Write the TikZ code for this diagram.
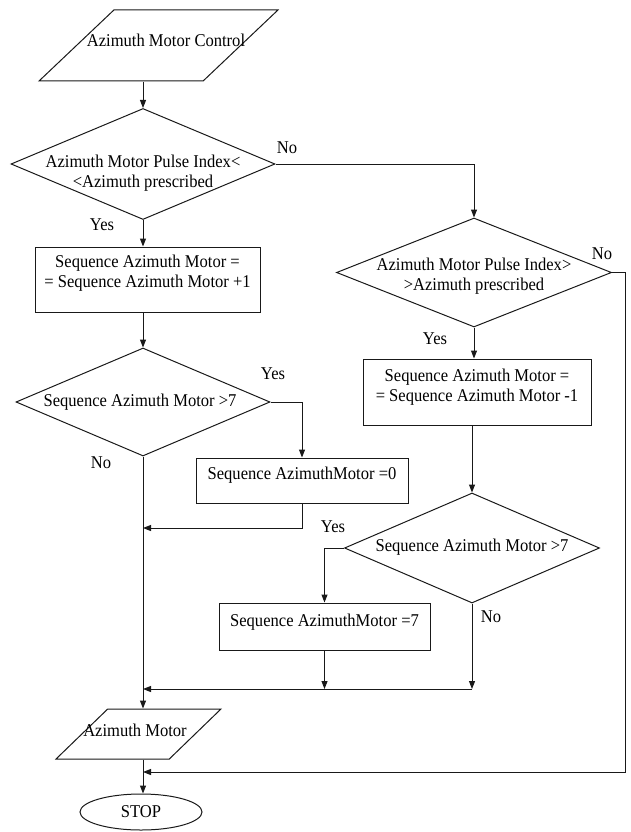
\documentclass[tikz,border=0pt]{standalone}
\usepackage{fontspec}
\setmainfont{Liberation Serif}[FakeStretch=0.92]
\usetikzlibrary{shapes.geometric,arrows.meta,calc}

\begin{document}
\begin{tikzpicture}[x=1pt,y=-1pt,
  line/.style={draw=black!90, line width=1pt},
  arr/.style={line, -{Triangle[length=8pt,width=6pt]}},
  box/.style={line, rectangle, inner sep=0pt},
  dia/.style={line, diamond, inner sep=0pt},
  io/.style={line, trapezium, trapezium stretches=true, trapezium left angle=50, trapezium right angle=130, inner sep=1pt},
  term/.style={line, ellipse, inner sep=0pt, font=\fontsize{18}{20}\selectfont},
  txt/.style={font=\fontsize{18}{20}\selectfont, align=center, inner sep=0pt},
  lab/.style={font=\fontsize{18}{20}\selectfont, inner sep=0pt},
]
\useasboundingbox (0,0) rectangle (630,832);

% shapes
\node[io, minimum width=239, minimum height=71] (p1) at (158.5,45.5) {};
\node[txt] (p1t) at (166,40) {Azimuth Motor Control};

\node[dia, minimum width=264, minimum height=111] (d1) at (143,164) {};
\node[txt] (d1t) at (143,173) {Azimuth Motor Pulse Index<\\<Azimuth prescribed};

\node[box, minimum width=225, minimum height=65] (b1) at (147.5,279.5) {};
\node[txt] (b1t) at (147.5,273) {Sequence Azimuth Motor =\\= Sequence Azimuth Motor +1};

\node[dia, minimum width=254, minimum height=108] (d3) at (143,402) {};
\node[txt] (d3t) at (140,402) {Sequence Azimuth Motor >7};

\node[box, minimum width=212, minimum height=45] (b0) at (302,480.5) {};
\node[txt] (b0t) at (302,475) {Sequence AzimuthMotor =0};

\node[dia, minimum width=275, minimum height=109] (d2) at (474,272.5) {};
\node[txt] (d2t) at (474,276) {Azimuth Motor Pulse Index>\\>Azimuth prescribed};

\node[box, minimum width=228, minimum height=66] (b2) at (477,392) {};
\node[txt] (b2t) at (477,387) {Sequence Azimuth Motor =\\= Sequence Azimuth Motor -1};

\node[dia, minimum width=255, minimum height=110] (d4) at (472,548) {};
\node[txt] (d4t) at (472,547) {Sequence Azimuth Motor >7};

\node[box, minimum width=211, minimum height=47] (b7) at (324.5,626.5) {};
\node[txt] (b7t) at (324.5,622) {Sequence AzimuthMotor =7};

\node[io, minimum width=165, minimum height=50] (p2) at (138.5,734) {};
\node[txt] (p2t) at (135,730) {Azimuth Motor};

\node[term, minimum width=122, minimum height=36] (stop) at (141,812) {STOP};

% junction points
\coordinate (m1) at (143,528);
\coordinate (m2) at (143,689);
\coordinate (m3) at (143,772);
\coordinate (r1) at (625,772);

% connectors
\draw[arr] (d1.north |- p1.south) -- (d1.north);
\draw[arr] (d1.east) -| (d2.north);
\draw[arr] (d1.south) -- (d1.south |- b1.north);
\draw[arr] (d3.north |- b1.south) -- (d3.north);
\draw[arr] (d3.east) -| (b0.north);
\draw[arr] (b0.south) |- (m1);
\draw[arr] (d3.south) -- (d3.south |- p2.north);
\draw[arr] (d2.south) -- (d2.south |- b2.north);
\draw[arr] (d4.north |- b2.south) -- (d4.north);
\draw[arr] (d4.west) -| (b7.north);
\draw[arr] (d4.south) -- (d4.south |- m2);
\draw[arr] (b7.south) -- (b7.south |- m2);
\draw[arr] (d4.south |- m2) -- (m2);
\draw[arr] (d2.east) -| (r1) -- (m3);
\draw[arr] (m3 |- p2.south) -- (m3 |- stop.north);

% branch labels
\node[lab] (l1no) at (287,148) {No};
\node[lab] (l1yes) at (102,225) {Yes};
\node[lab] (l2no) at (602,254) {No};
\node[lab] (l2yes) at (435,339) {Yes};
\node[lab] (l3yes) at (273,374) {Yes};
\node[lab] (l3no) at (101,463) {No};
\node[lab] (l4yes) at (333,527) {Yes};
\node[lab] (l4no) at (491,617) {No};
\end{tikzpicture}
\end{document}
